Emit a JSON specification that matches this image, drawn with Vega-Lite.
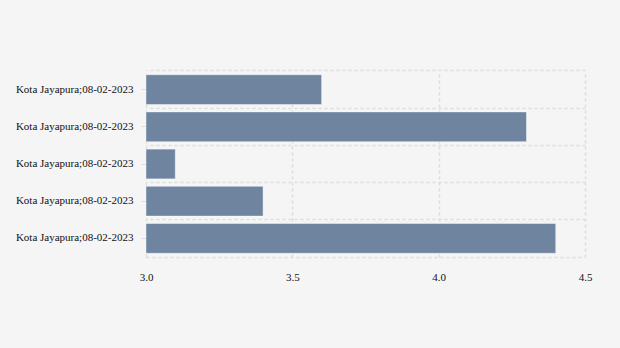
{
  "$schema": "https://vega.github.io/schema/vega-lite/v6.json",
  "width": 439,
  "height": 186,
  "autosize": {"type": "none"},
  "padding": {"left": 146, "top": 71, "right": 35, "bottom": 91},
  "background": "#f5f5f5",
  "config": {
    "view": {"stroke": null}
  },
  "data": {
    "values": [
      {"id": "r1", "label": "Kota Jayapura;08-02-2023", "value": 3.6},
      {"id": "r2", "label": "Kota Jayapura;08-02-2023", "value": 4.3},
      {"id": "r3", "label": "Kota Jayapura;08-02-2023", "value": 3.1},
      {"id": "r4", "label": "Kota Jayapura;08-02-2023", "value": 3.4},
      {"id": "r5", "label": "Kota Jayapura;08-02-2023", "value": 4.4}
    ]
  },
  "layer": [
    {
      "mark": {"type": "bar", "opacity": 0},
      "encoding": {
        "y": {"field": "id", "type": "nominal", "sort": null, "title": null,
          "axis": {"orient": "right", "grid": true, "bandPosition": -0.125, "gridColor": "#dddddd", "gridDash": [3, 3], "gridWidth": 1.5,
            "labels": false, "ticks": false, "domain": false}}
      }
    },
    {
      "mark": {"type": "bar", "color": "#6f849f", "stroke": "#ffffff", "strokeWidth": 0.6, "strokeOpacity": 0.7},
      "encoding": {
        "y": {"field": "id", "type": "nominal", "sort": null, "title": null,
          "scale": {"paddingInner": 0.2, "paddingOuter": 0.1},
          "axis": {"orient": "left", "grid": false, "domain": false,
            "ticks": true, "tickSize": 5, "tickColor": "#dddddd", "labelPadding": 8,
            "labelFont": "Liberation Serif", "labelFontSize": 11, "labelColor": "#111111", "labelFontWeight": "normal",
            "labelExpr": "'Kota Jayapura;08-02-2023'"}},
        "x": {"field": "value", "type": "quantitative", "title": null,
          "scale": {"domain": [3, 4.5], "zero": false, "nice": false, "clamp": true},
          "axis": {"values": [3, 3.5, 4, 4.5], "format": ".1f", "ticks": false, "labelPadding": 14, "labelFlush": false,
            "domain": true, "domainColor": "#dddddd", "domainDash": [3, 3], "domainWidth": 1.5,
            "grid": true, "gridColor": "#dddddd", "gridDash": [3, 3], "gridWidth": 1.5,
            "labelFont": "Liberation Serif", "labelFontSize": 11, "labelColor": "#111111", "labelFontWeight": "normal"}}
      }
    }
  ],
  "resolve": {"axis": {"y": "independent"}}
}
